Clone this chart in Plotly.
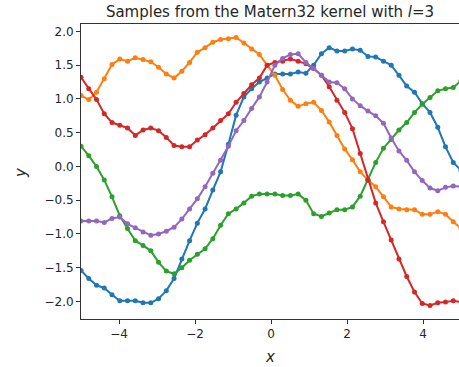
import plotly.graph_objects as go

x_vals = [-5.000, -4.796, -4.592, -4.388, -4.184, -3.980, -3.776, -3.571, -3.367, -3.163,
          -2.959, -2.755, -2.551, -2.347, -2.143, -1.939, -1.735, -1.531, -1.327, -1.122,
          -0.918, -0.714, -0.510, -0.306, -0.102, 0.102, 0.306, 0.510, 0.714, 0.918,
          1.122, 1.327, 1.531, 1.735, 1.939, 2.143, 2.347, 2.551, 2.755, 2.959,
          3.163, 3.367, 3.571, 3.776, 3.980, 4.184, 4.388, 4.592, 4.796, 5.000]

sample_blue = [-1.54, -1.66, -1.76, -1.80, -1.90, -1.99, -1.99, -1.99, -2.02, -2.02,
               -1.96, -1.84, -1.66, -1.37, -1.10, -0.84, -0.63, -0.35, -0.08, 0.33,
               0.76, 1.03, 1.15, 1.25, 1.31, 1.37, 1.37, 1.37, 1.40, 1.38,
               1.50, 1.67, 1.76, 1.71, 1.71, 1.74, 1.72, 1.63, 1.62, 1.56,
               1.50, 1.35, 1.19, 1.10, 0.93, 0.80, 0.58, 0.29, 0.06, -0.06]

sample_orange = [1.05, 0.99, 1.10, 1.30, 1.51, 1.59, 1.56, 1.61, 1.585, 1.55,
                 1.47, 1.37, 1.31, 1.41, 1.54, 1.69, 1.76, 1.84, 1.88, 1.89,
                 1.91, 1.83, 1.74, 1.66, 1.50, 1.35, 1.14, 0.98, 0.89, 0.93,
                 0.95, 0.83, 0.66, 0.46, 0.26, 0.10, -0.08, -0.20, -0.30, -0.45,
                 -0.60, -0.63, -0.64, -0.64, -0.71, -0.71, -0.67, -0.71, -0.82, -0.92]

sample_green = [0.30, 0.16, 0.00, -0.20, -0.45, -0.73, -0.92, -1.10, -1.17, -1.25,
                -1.42, -1.55, -1.59, -1.50, -1.39, -1.30, -1.22, -1.07, -0.87, -0.70,
                -0.63, -0.54, -0.44, -0.41, -0.41, -0.41, -0.43, -0.43, -0.41, -0.50,
                -0.70, -0.74, -0.69, -0.64, -0.64, -0.60, -0.44, -0.20, 0.06, 0.27,
                0.40, 0.54, 0.65, 0.80, 0.92, 1.02, 1.12, 1.15, 1.17, 1.27]

sample_red = [1.32, 1.15, 0.99, 0.78, 0.65, 0.61, 0.57, 0.46, 0.54, 0.57,
              0.53, 0.43, 0.31, 0.29, 0.29, 0.39, 0.47, 0.57, 0.68, 0.78,
              0.95, 1.08, 1.21, 1.31, 1.50, 1.54, 1.56, 1.59, 1.56, 1.52,
              1.45, 1.35, 1.18, 0.98, 0.80, 0.56, 0.19, -0.20, -0.54, -0.82,
              -1.09, -1.37, -1.63, -1.86, -2.03, -2.06, -2.02, -2.01, -1.99, -2.01]

sample_purple = [-0.81, -0.81, -0.81, -0.83, -0.77, -0.75, -0.85, -0.91, -0.97, -1.02,
                 -1.00, -0.96, -0.90, -0.78, -0.63, -0.48, -0.30, -0.10, 0.09, 0.30,
                 0.53, 0.68, 0.86, 1.03, 1.25, 1.50, 1.60, 1.66, 1.67, 1.54,
                 1.45, 1.35, 1.25, 1.24, 1.15, 1.00, 0.90, 0.82, 0.75, 0.64,
                 0.42, 0.23, 0.09, -0.08, -0.21, -0.32, -0.36, -0.31, -0.29, -0.30]

series = [sample_blue, sample_orange, sample_green, sample_red, sample_purple]
colors = ["#1f77b4", "#ff7f0e", "#2ca02c", "#d62728", "#9467bd"]

x_tickvals = [-4, -2, 0, 2, 4]
x_ticktext = ["\u22124", "\u22122", "0", "2", "4"]
y_tickvals = [-2.0, -1.5, -1.0, -0.5, 0.0, 0.5, 1.0, 1.5, 2.0]
y_ticktext = ["\u22122.0", "\u22121.5", "\u22121.0", "\u22120.5", "0.0", "0.5", "1.0", "1.5", "2.0"]

fig = go.Figure()
for ys, c in zip(series, colors):
    fig.add_trace(go.Scatter(x=x_vals, y=ys, mode="lines+markers",
                             line=dict(color=c, width=2),
                             marker=dict(color=c, size=5),
                             showlegend=False))

axis_common = dict(showgrid=False, zeroline=False, showline=True, linecolor="#333333",
                   linewidth=1, ticks="outside", ticklen=4, tickwidth=1, tickcolor="#333333",
                   tickfont=dict(family="DejaVu Sans", size=12, color="#262626"))

fig.update_layout(
    width=459, height=367,
    margin=dict(l=81, r=0, t=24, b=48),
    paper_bgcolor="white", plot_bgcolor="white",
    xaxis=dict(range=[-5.0, 4.947], tickvals=x_tickvals, ticktext=x_ticktext,
               mirror=True, **axis_common),
    yaxis=dict(range=[-2.26, 2.11], tickvals=y_tickvals, ticktext=y_ticktext,
               **axis_common),
    title=dict(text="Samples from the Matern32 kernel with <i>l</i>=3",
               font=dict(family="DejaVu Sans", size=15, color="#262626"),
               x=0.5, xref="paper", xanchor="center",
               y=1 - 12 / 367, yref="container", yanchor="middle"),
    annotations=[
        dict(text="<i>x</i>", xref="paper", yref="paper", x=0.5, y=-0.129,
             xanchor="center", yanchor="middle", showarrow=False,
             font=dict(family="DejaVu Sans", size=15, color="#262626")),
        dict(text="<i>y</i>", xref="paper", yref="paper", x=-0.159, y=0.498,
             xanchor="center", yanchor="middle", showarrow=False, textangle=-90,
             font=dict(family="DejaVu Sans", size=15, color="#262626")),
    ],
)

fig.write_html("out.html")
